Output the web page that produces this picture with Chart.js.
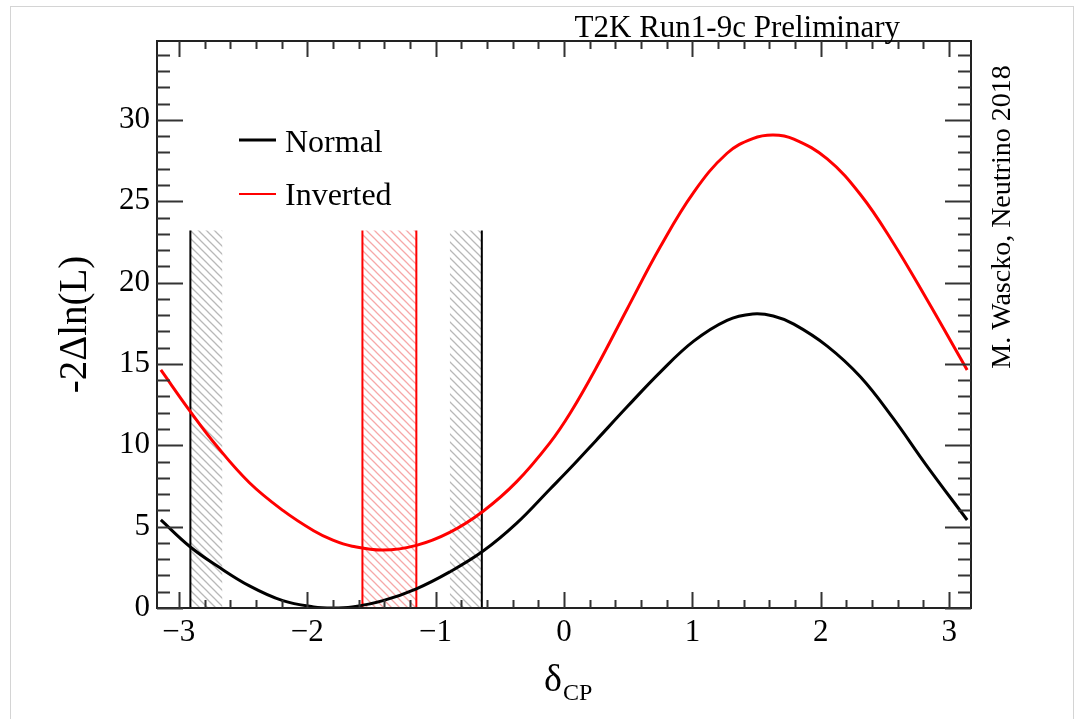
<!DOCTYPE html>
<html>
<head>
<meta charset="utf-8">
<script src="https://cdn.jsdelivr.net/npm/chart.js@4.4.1/dist/chart.umd.min.js"></script>
<style>
  html, body { margin: 0; padding: 0; background: #fff; }
  #wrap { width: 1081px; height: 719px; position: relative; }
</style>
</head>
<body>
<div id="wrap"><canvas id="chart"></canvas></div>
<script>
// delta_CP scan points and -2 delta ln L for each mass ordering
const deltaCP = [-3.14, -2.91, -2.70, -2.45, -2.19, -1.95, -1.80, -1.65, -1.41, -1.15, -0.89, -0.63, -0.37, -0.11,
  0.05, 0.25, 0.49, 0.75, 1.01, 1.27, 1.47, 1.63, 1.79, 2.05, 2.31, 2.56, 2.82, 3.14];
const normalChi2 = [5.41, 3.75, 2.58, 1.36, 0.45, 0.07, 0.00, 0.06, 0.45, 1.18, 2.22, 3.50, 5.20, 7.30,
  8.60, 10.30, 12.35, 14.50, 16.40, 17.68, 18.07, 17.95, 17.45, 16.10, 14.20, 11.70, 8.80, 5.41];
const invertedChi2 = [14.63, 12.07, 9.91, 7.70, 6.00, 4.75, 4.17, 3.80, 3.56, 3.85, 4.65, 5.95, 7.75, 10.15,
  12.00, 14.75, 18.35, 22.20, 25.55, 27.95, 28.85, 29.07, 28.82, 27.60, 25.40, 22.50, 19.05, 14.63];

// confidence interval edges
const normalEdges = [-2.91, -0.64];
const normalHatch = [[-2.91, -2.66], [-0.89, -0.64]];
const invertedEdges = [-1.57, -1.15];
const edgeHeight = 23.2;

const xTicks = [-3, -2, -1, 0, 1, 2, 3];
const yTicks = [0, 5, 10, 15, 20, 25, 30];

const serif = '"Liberation Serif", "DejaVu Serif", serif';

function hatch(color) {
  const c = document.createElement('canvas');
  c.width = 8; c.height = 8;
  const g = c.getContext('2d');
  g.strokeStyle = color;
  g.lineWidth = 1.3;
  g.beginPath();
  g.moveTo(-2, -2); g.lineTo(10, 10);
  g.moveTo(-2, 6); g.lineTo(2, 10);
  g.moveTo(6, -2); g.lineTo(10, 2);
  g.stroke();
  return g.createPattern(c, 'repeat');
}

const pts = ys => deltaCP.map((x, i) => ({ x: x, y: ys[i] }));
const vline = (x, color) => ({
  data: [{ x: x, y: 0 }, { x: x, y: edgeHeight }],
  borderColor: color, borderWidth: 2, pointRadius: 0, fill: false, tension: 0
});
const band = (r, pattern) => ({
  data: [{ x: r[0], y: edgeHeight }, { x: r[1], y: edgeHeight }],
  borderColor: 'transparent', borderWidth: 0, pointRadius: 0, tension: 0,
  fill: 'origin', backgroundColor: pattern
});

const grayHatch = hatch('#b8b8b8');
const redHatch = hatch('#f6a8a8');

const datasets = [
  { label: 'Normal', data: pts(normalChi2), borderColor: '#000', borderWidth: 3,
    pointRadius: 0, tension: 0.4, fill: false },
  { label: 'Inverted', data: pts(invertedChi2), borderColor: '#ff0000', borderWidth: 3,
    pointRadius: 0, tension: 0.4, fill: false },
  vline(normalEdges[0], '#000'), vline(normalEdges[1], '#000'),
  vline(invertedEdges[0], '#ff0000'), vline(invertedEdges[1], '#ff0000'),
  band(normalHatch[0], grayHatch), band(normalHatch[1], grayHatch),
  band(invertedEdges, redHatch)
];

const decorations = {
  id: 'decorations',
  beforeDraw(chart) {
    const ctx = chart.ctx;
    ctx.save();
    ctx.strokeStyle = '#d4d4d4';
    ctx.lineWidth = 1;
    ctx.strokeRect(10.5, 6.5, 1063, 720);
    ctx.restore();
  },
  afterDatasetsDraw(chart) {
    const { ctx, chartArea: a, scales: { x, y } } = chart;
    ctx.save();
    // frame
    ctx.strokeStyle = '#222';
    ctx.lineWidth = 2;
    ctx.strokeRect(a.left, a.top, a.right - a.left, a.bottom - a.top);
    // inward ticks, mirrored on top and right
    ctx.strokeStyle = '#333';
    ctx.lineWidth = 2;
    ctx.beginPath();
    for (let i = -16; i <= 16; i++) {
      const v = i / 5;
      if (v < x.min || v > x.max) continue;
      const px = Math.round(x.getPixelForValue(v)) + 0.5;
      const len = i % 5 === 0 ? 16 : 8;
      ctx.moveTo(px, a.bottom); ctx.lineTo(px, a.bottom - len);
      ctx.moveTo(px, a.top); ctx.lineTo(px, a.top + len);
    }
    for (let i = 0; i <= 34; i++) {
      const py = Math.round(y.getPixelForValue(i)) + 0.5;
      const len = i % 5 === 0 ? 26 : 13;
      ctx.moveTo(a.left, py); ctx.lineTo(a.left + len, py);
      ctx.moveTo(a.right, py); ctx.lineTo(a.right - len, py);
    }
    ctx.stroke();

    ctx.fillStyle = '#000';
    ctx.textBaseline = 'alphabetic';
    // title
    ctx.font = '31px ' + serif;
    ctx.textAlign = 'right';
    ctx.fillText('T2K Run1-9c Preliminary', 900, 37);
    // legend
    ctx.textAlign = 'left';
    ctx.font = '32px ' + serif;
    ctx.lineWidth = 3;
    ctx.strokeStyle = '#000';
    ctx.beginPath(); ctx.moveTo(239, 140); ctx.lineTo(276, 140); ctx.stroke();
    ctx.fillText('Normal', 285, 152);
    ctx.lineWidth = 2;
    ctx.strokeStyle = '#ff0000';
    ctx.beginPath(); ctx.moveTo(239, 194); ctx.lineTo(276, 194); ctx.stroke();
    ctx.fillText('Inverted', 285, 205);
    // x axis title with subscript
    ctx.font = '38px ' + serif;
    ctx.textAlign = 'right';
    ctx.fillText('\u03b4', 562, 691);
    ctx.textAlign = 'left';
    ctx.font = '24px ' + serif;
    ctx.fillText('CP', 563, 700);
    // credit
    ctx.translate(1010, 217);
    ctx.rotate(-Math.PI / 2);
    ctx.textAlign = 'center';
    ctx.font = '28px ' + serif;
    ctx.fillText('M. Wascko, Neutrino 2018', 0, 0);
    ctx.restore();
  }
};

new Chart(document.getElementById('chart'), {
  type: 'line',
  data: { datasets: datasets },
  plugins: [decorations],
  options: {
    responsive: true,
    maintainAspectRatio: false,
    animation: false,
    layout: { padding: { left: 0, right: 110, top: 41, bottom: 0 } },
    plugins: { legend: { display: false }, tooltip: { enabled: false } },
    scales: {
      x: {
        type: 'linear', min: -3.17, max: 3.17,
        afterBuildTicks: s => { s.ticks = xTicks.map(v => ({ value: v })); },
        afterFit: s => { s.height = 111; },
        grid: { display: false, drawTicks: false },
        border: { display: false },
        ticks: {
          color: '#000', padding: 6, font: { family: serif, size: 31 },
          callback: v => (v < 0 ? '\u2212' + Math.abs(v) : String(v))
        }
      },
      y: {
        type: 'linear', min: 0, max: 34.85,
        afterBuildTicks: s => { s.ticks = yTicks.map(v => ({ value: v })); },
        afterFit: s => { s.width = 157; },
        grid: { display: false, drawTicks: false },
        border: { display: false },
        ticks: { color: '#000', padding: 7, font: { family: serif, size: 31 } },
        title: {
          display: true, text: '-2\u0394ln(L)', color: '#000',
          font: { family: serif, size: 39 }, padding: { top: 52, bottom: 0 }
        }
      }
    }
  }
});
</script>
</body>
</html>
